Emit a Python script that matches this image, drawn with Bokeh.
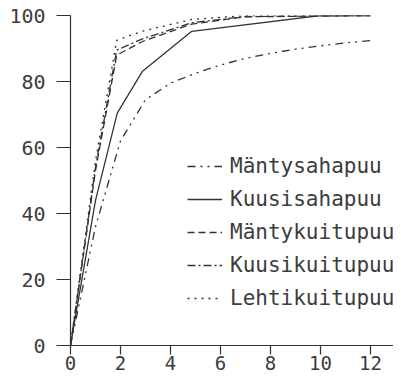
from bokeh.plotting import figure
from bokeh.models import Range1d, Legend, LegendItem, FixedTicker
from bokeh.embed import file_html
from bokeh.resources import INLINE

# --- data ---
x_mantysaha = [0, 1, 2, 3, 4, 5, 6, 7, 8, 9, 10, 11, 12]
y_mantysaha = [0, 36, 62, 74.5, 79.5, 82.5, 85, 87, 88.5, 89.8, 90.8, 91.7, 92.4]

x_kuusisaha = [0, 1, 1.87, 2.87, 4.85, 10, 12]
y_kuusisaha = [0, 44, 70.4, 83, 95.2, 100, 100]

x_kuitu = [0, 1, 1.85, 2.9, 4.85, 7, 12]
y_mantykuitu = [0, 53, 88, 92.2, 97.4, 99.6, 100]
y_kuusikuitu = [0, 54, 89.5, 93, 97.8, 99.7, 100]
y_lehtikuitu = [0, 56, 92.5, 95.3, 98.8, 100, 100]

labels = ["Mäntysahapuu", "Kuusisahapuu", "Mäntykuitupuu", "Kuusikuitupuu", "Lehtikuitupuu"]
x_ticks = [0, 2, 4, 6, 8, 10, 12]
y_ticks = [0, 20, 40, 60, 80, 100]

INK = "#333333"
TEXT = "#3c3c3c"
FONT = "DejaVu Sans Mono"

p = figure(width=393, height=377, output_backend="svg", toolbar_location=None,
           x_range=Range1d(0, 12.92), y_range=Range1d(0, 100),
           min_border_left=70, min_border_right=0, min_border_top=15, min_border_bottom=32)
p.outline_line_color = None
p.grid.visible = False
p.background_fill_color = "white"
p.border_fill_color = "white"

series = [
    (x_mantysaha, y_mantysaha, "8 5 2 5 2 5"),
    (x_kuusisaha, y_kuusisaha, "solid"),
    (x_kuitu, y_mantykuitu, "7 4"),
    (x_kuitu, y_kuusikuitu, "8 3 2 3"),
    (x_kuitu, y_lehtikuitu, "2 5"),
]
items = []
for (xs, ys, dash), lab in zip(series, labels):
    r = p.line(xs, ys, line_color=INK, line_width=1.3, line_dash=dash)
    items.append(LegendItem(label=lab, renderers=[r]))

legend = Legend(items=items, location=(117, 35), padding=0, margin=0,
                spacing=9, glyph_width=35, glyph_height=20, label_height=20,
                label_standoff=8, border_line_color=None, background_fill_alpha=0,
                label_text_font=FONT, label_text_font_size="21px", label_text_color=TEXT)
p.add_layout(legend, "center")

for ax in (p.xaxis[0], p.yaxis[0]):
    ax.axis_line_color = INK
    ax.axis_line_width = 1.2
    ax.major_tick_line_color = INK
    ax.major_tick_line_width = 1.2
    ax.minor_tick_line_color = None
    ax.major_tick_in = 0
    ax.major_label_text_font = FONT
    ax.major_label_text_color = TEXT
    ax.major_label_text_font_style = "normal"

p.xaxis[0].ticker = FixedTicker(ticks=x_ticks)
p.yaxis[0].ticker = FixedTicker(ticks=y_ticks)
p.xaxis[0].major_tick_out = 9
p.yaxis[0].major_tick_out = 14
p.xaxis[0].major_label_standoff = 1
p.yaxis[0].major_label_standoff = 11
p.xaxis[0].major_label_text_font_size = "19px"
p.yaxis[0].major_label_text_font_size = "20px"

open("out.html", "w").write(file_html(p, INLINE))
